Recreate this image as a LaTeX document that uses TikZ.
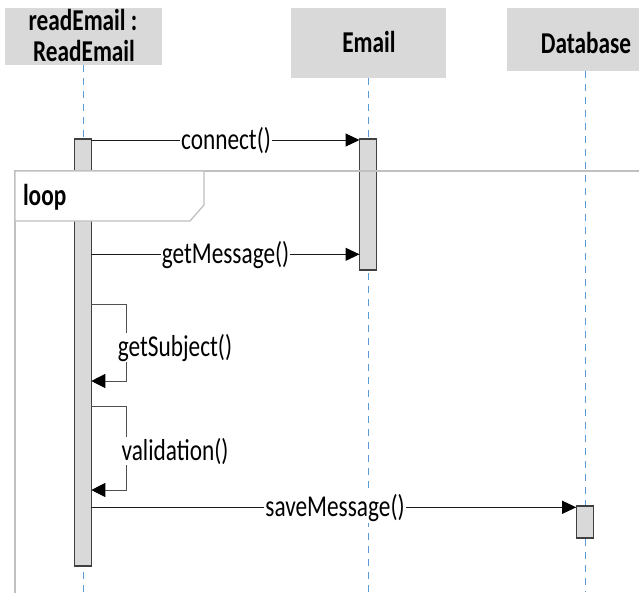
\documentclass[tikz,border=0pt]{standalone}
\usepackage{fontspec}
\setmainfont{Carlito}
\usepackage{graphicx}
\usetikzlibrary{arrows.meta}
\definecolor{boxgray}{HTML}{D9D9D9}
\definecolor{lifeblue}{HTML}{5B9BD5}
\definecolor{framegray}{HTML}{C0C0C0}
\definecolor{msgcol}{HTML}{1A1A1A}
\definecolor{selfcol}{HTML}{505050}
\definecolor{barline}{HTML}{404040}
\newcommand{\tallx}[1]{\scalebox{1}[1.3]{#1}}
\begin{document}
\begin{tikzpicture}[x=1pt,y=-1pt,
  every node/.style={inner sep=0pt, outer sep=0pt},
  hdr/.style={fill=boxgray, draw=none, anchor=north west},
  hdrtxt/.style={anchor=base, font=\fontsize{23.3}{28}\selectfont\bfseries},
  lifeline/.style={draw=lifeblue, line width=1pt, dash pattern=on 7pt off 6pt},
  actbar/.style={fill=boxgray, draw=barline, line width=1.1pt, anchor=north, minimum width=17pt},
  msg/.style={draw=msgcol, line width=1pt, -{Triangle[length=14pt,width=13pt,color=black,fill=black]}},
  selfmsg/.style={draw=selfcol, line width=1pt, -{Triangle[length=14pt,width=14pt,color=black,fill=black]}},
  msglbl/.style={anchor=base, fill=white, inner xsep=1pt, inner ysep=1pt, font=\fontsize{23.3}{28}\selectfont},
  framestyle/.style={draw=framegray, line width=1.3pt},
]
\useasboundingbox (0,0) rectangle (639,592);

% header boxes
\node[hdr, minimum width=157pt, minimum height=57pt] (hA) at (5,8) {};
\node[hdr, minimum width=155pt, minimum height=70pt] (hB) at (291,8) {};
\node[hdr, minimum width=140pt, minimum height=63pt] (hC) at (507,8) {};
\node[hdrtxt] (tA1) at (83,30) {\tallx{readEmail :}};
\node[hdrtxt] (tA2) at (84,61.5) {\tallx{ReadEmail}};
\node[hdrtxt] (tB) at (369,52.5) {\tallx{Email}};
\node[hdrtxt] (tC) at (586,53) {\tallx{Database}};

% lifelines
\coordinate (endA) at (83,592);
\coordinate (endB) at (368.3,592);
\coordinate (endC) at (585,592);
\draw[lifeline] (hA.south -| endA) -- (endA);
\draw[lifeline] (hB.south -| endB) -- (endB);
\draw[lifeline] (hC.south -| endC) -- (endC);

% activation bars
\node[actbar, minimum height=427pt] (bA) at (82.8,139) {};
\node[actbar, minimum height=131pt] (bB) at (368,139) {};
\node[actbar, minimum height=32pt] (bC) at (584.7,506) {};

% loop frame
\draw[framestyle] (15,593) -- (15,171) -- (641,171);
\draw[framestyle, fill=white] (15,171) -- (204,171) -- (204,205) -- (190,221) -- (15,221) -- cycle;
\node[anchor=base west, font=\fontsize{23.3}{28}\selectfont\bfseries] (loopl) at (23,205) {\tallx{loop}};

% message levels
\coordinate (y1) at (0,140);
\coordinate (y2) at (0,254.3);
\coordinate (y3) at (0,304.3);
\coordinate (y4) at (0,381);
\coordinate (y5) at (0,406.7);
\coordinate (y6) at (0,490);
\coordinate (y7) at (0,507.3);

% messages
\draw[msg] (bA.east |- y1) -- (bB.west |- y1);
\node[msglbl] (l1) at (226,149) {\tallx{connect()}};
\draw[msg] (bA.east |- y2) -- (bB.west |- y2);
\node[msglbl] (l2) at (225.5,263.5) {\tallx{getMessage()}};
\draw[selfmsg] (bA.east |- y3) -- ++(35,0) |- (bA.east |- y4);
\node[msglbl] (l3) at (175,356) {\tallx{getSubject()}};
\draw[selfmsg] (bA.east |- y5) -- ++(35,0) |- (bA.east |- y6);
\node[msglbl] (l4) at (175,460) {\tallx{validation()}};
\draw[msg] (bA.east |- y7) -- (bC.west |- y7);
\node[msglbl] (l5) at (335,516.5) {\tallx{saveMessage()}};
\end{tikzpicture}
\end{document}
